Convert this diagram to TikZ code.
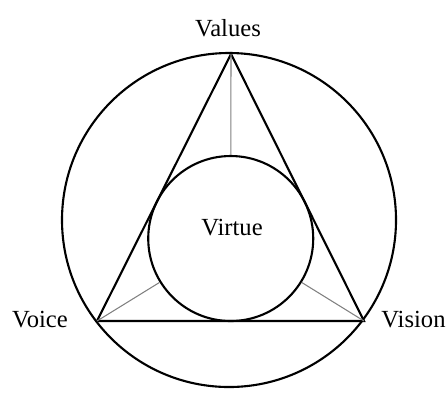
\documentclass[tikz,border=0pt]{standalone}
\usepackage{fontspec}
\setmainfont{Liberation Serif}
\usepackage{tikz}
\usetikzlibrary{positioning,calc}

\begin{document}
\begin{tikzpicture}[
    edge/.style={line width=1.2pt, black},
    spoke/.style={line width=0.6pt, gray},
    lbl/.style={font=\fontsize{14}{16}\selectfont, inner sep=0pt}
  ]
    \useasboundingbox (0,0) rectangle (8.96,-7.84);
    \coordinate (values) at (4.62,-1.08);
    \coordinate (voice) at (1.94,-6.42);
    \coordinate (vision) at (7.28,-6.42);
    % outer circle and triangle
    \draw[edge] (4.58,-4.40) circle (3.34);
    \draw[edge] (values) -- (voice) -- (vision) -- cycle;
    \node[draw, edge, circle, inner sep=0pt, minimum size=3.30cm] (virtue) at (4.6145,-4.770) {};
    \draw[spoke] (values) -- (virtue);
    \draw[spoke] (voice) -- (virtue);
    \draw[spoke] (vision) -- (virtue);
    % labels
    \node[lbl] (valuesL) at (4.56,-0.56) {Values};
    \node[lbl] (voiceL) at (0.80,-6.40) {Voice};
    \node[lbl] (visionL) at (8.27,-6.40) {Vision};
    \node[lbl] (virtueL) at (4.64,-4.56) {Virtue};
\end{tikzpicture}
\end{document}
